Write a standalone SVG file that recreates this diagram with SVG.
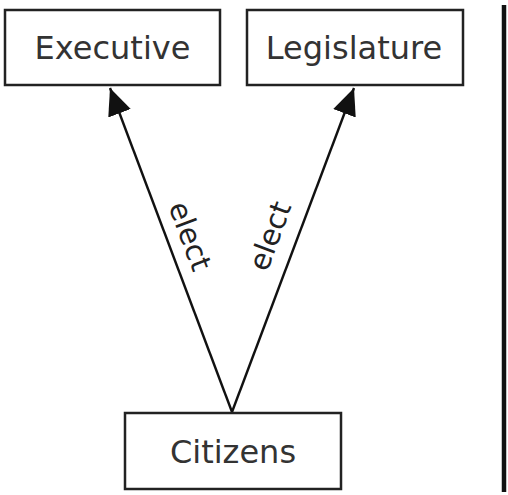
<svg xmlns="http://www.w3.org/2000/svg" width="508" height="495" viewBox="0 0 508 495">
<defs>
<marker id="ah" markerUnits="userSpaceOnUse" markerWidth="30" markerHeight="26" refX="27" refY="12" orient="auto">
<path d="M0,0 L27,12 L0,24 z" fill="#111"/>
</marker>
<style>
.box{fill:#fff;stroke:#222;stroke-width:2.5}
.lbl{font-family:"DejaVu Sans",sans-serif;font-size:32px;fill:#333;text-anchor:middle}
.el{font-family:"DejaVu Sans",sans-serif;font-size:29px;fill:#222;text-anchor:middle;dominant-baseline:central}
.con{stroke:#111;stroke-width:2.4;fill:none}
</style>
</defs>
<rect width="508" height="495" fill="#fff"/>
<g id="connectors">
<line class="con" x1="232" y1="412" x2="110" y2="88" marker-end="url(#ah)"/>
<line class="con" x1="232" y1="412" x2="354" y2="88" marker-end="url(#ah)"/>
<text class="el" transform="translate(190,236) rotate(69.4)">elect</text>
<text class="el" transform="translate(270,236) rotate(-69.6)">elect</text>
</g>
<g id="executive">
<rect class="box" x="5" y="10" width="215" height="75"/>
<text class="lbl" x="112.5" y="59">Executive</text>
</g>
<g id="legislature">
<rect class="box" x="247" y="10" width="216" height="75"/>
<text class="lbl" x="354" y="59">Legislature</text>
</g>
<g id="citizens">
<rect class="box" x="125" y="413" width="216" height="76"/>
<text class="lbl" x="233" y="463">Citizens</text>
</g>
<line x1="504" y1="5" x2="504" y2="492" stroke="#111" stroke-width="4.5"/>
</svg>
